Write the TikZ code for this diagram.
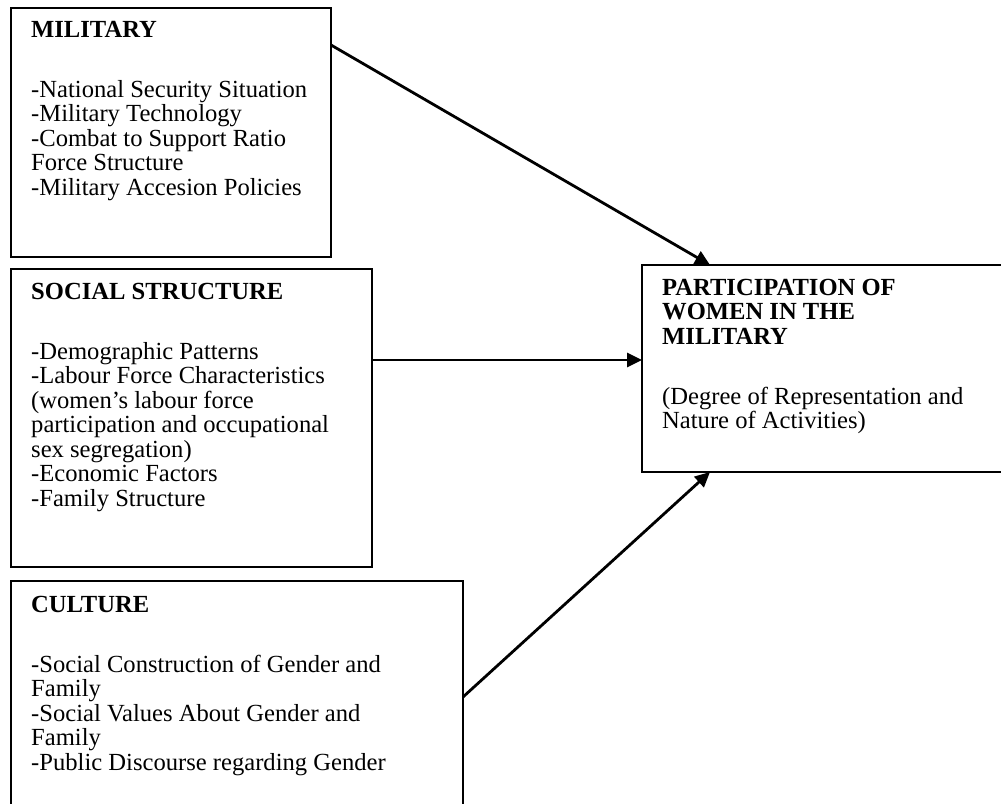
\documentclass[tikz,border=0pt]{standalone}
\usepackage{fontspec}
\setmainfont{Liberation Serif}
\usetikzlibrary{arrows.meta}
\begin{document}
\begin{tikzpicture}[x=1pt, y=-1pt,
	box/.style={draw, rectangle, line width=1.7pt, inner sep=0pt, outer sep=0pt, anchor=north west},
	boxtext/.style={anchor=north west, align=left, inner sep=0pt, font=\fontsize{24.6}{24.5}\selectfont},
	link/.style={line width=2.8pt, -{Triangle[length=15pt, width=14pt]}}]
			\clip (0,0) rectangle (1001,803);
			\node[box, minimum width=320pt, minimum height=249pt] at (11,8) (mil) {};
			\node[box, minimum width=361pt, minimum height=298pt] at (11,269) (soc) {};
			\node[box, minimum width=452pt, minimum height=260pt] at (11,581) (cul) {};
			\node[box, minimum width=368pt, minimum height=207pt] at (642,265) (par) {};
			\node[boxtext] at (31,21) (miltext) {\textbf{MILITARY}\\[35.5pt]
				-National Security Situation\\
				-Military Technology\\
				-Combat to Support Ratio\\
				Force Structure\\
				-Military Accesion Policies};
			\node[boxtext] at (31,283) (soctext) {\textbf{SOCIAL STRUCTURE}\\[35.5pt]
				-Demographic Patterns\\
				-Labour Force Characteristics\\
				(women’s labour force\\
				participation and occupational\\
				sex segregation)\\
				-Economic Factors\\
				-Family Structure};
			\node[boxtext] at (31,596) (cultext) {\textbf{CULTURE}\\[35.5pt]
				-Social Construction of Gender and\\
				Family\\
				-Social Values About Gender and\\
				Family\\
				-Public Discourse regarding Gender};
			\node[boxtext] at (662,279) (partext) {\textbf{PARTICIPATION OF}\\
				\textbf{WOMEN IN THE}\\
				\textbf{MILITARY}\\[35.5pt]
				(Degree of Representation and\\
				Nature of Activities)};
			\draw[link] ([yshift=-37pt]mil.north east) -- ([xshift=68pt]par.north west);
			\draw[link] ([yshift=-91pt]soc.north east) -- ([yshift=-95pt]par.north west);
			\draw[link] ([yshift=-116pt]cul.north east) -- ([xshift=68pt]par.south west);
		\end{tikzpicture}
\end{document}
